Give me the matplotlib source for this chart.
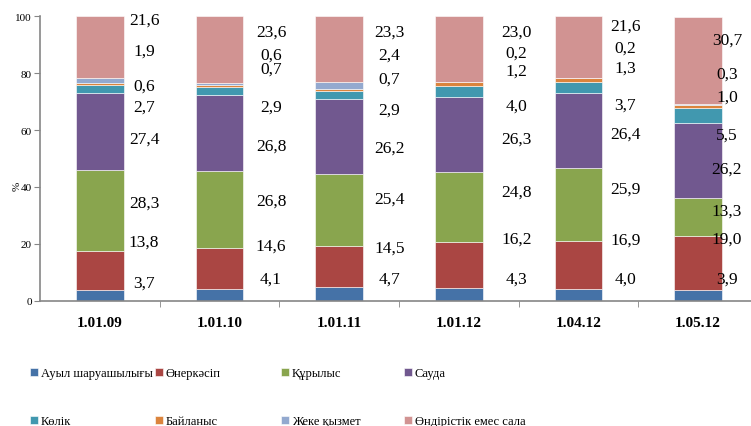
import numpy as np
import matplotlib
matplotlib.use("Agg")
import matplotlib.pyplot as plt

# даты и отрасли
dates = ['1.01.09', '1.01.10', '1.01.11', '1.01.12', '1.04.12', '1.05.12']
sectors = ['Ауыл шаруашылығы', 'Өнеркәсіп', 'Құрылыс', 'Сауда',
           'Көлік', 'Байланыс', 'Жеке қызмет', 'Өндірістік емес сала']

agri = [3.7, 4.1, 4.7, 4.3, 4.0, 3.9]
industry = [13.8, 14.6, 14.5, 16.2, 16.9, 19.0]
construction = [28.3, 26.8, 25.4, 24.8, 25.9, 13.3]
trade = [27.4, 26.8, 26.2, 26.3, 26.4, 26.2]
transport = [2.7, 2.9, 2.9, 4.0, 3.7, 5.5]
communication = [0.6, 0.7, 0.7, 1.2, 1.3, 1.0]
private = [1.9, 0.6, 2.4, 0.2, 0.2, 0.3]
nonprod = [21.6, 23.6, 23.3, 23.0, 21.6, 30.7]

colors = ['#4572A7', '#AA4643', '#89A54E', '#71588F',
          '#4198AF', '#DB843D', '#93A9CF', '#D19392']

# положение подписей (как в исходной диаграмме, подписи раздвинуты вручную)
label_y = [
    [6.5, 20.9, 34.4, 56.9, 68.4, 75.8, 87.9, 98.8],
    [7.6, 19.2, 35.1, 54.4, 68.1, 81.5, 86.7, 94.5],
    [7.6, 18.8, 35.8, 53.9, 67.2, 78.2, 86.7, 94.7],
    [7.6, 21.7, 38.3, 56.9, 68.6, 80.9, 87.3, 94.7],
    [7.6, 21.4, 39.3, 58.6, 68.8, 82.1, 89.1, 96.9],
    [7.6, 21.7, 31.6, 46.3, 58.3, 71.9, 79.7, 91.8],
]
label_dx = [0.37, 0.43, 0.42, 0.48, 0.39, 0.24]

series = [agri, industry, construction, trade, transport, communication, private, nonprod]

plt.rcParams['font.family'] = ['Liberation Serif', 'DejaVu Serif']

fig = plt.figure(figsize=(7.51, 4.27), dpi=100)
ax = fig.add_axes([40 / 751, 0.2934, 718 / 751, 0.666])

x = np.arange(len(dates))
bottom = np.zeros(len(dates))
handles = []
for vals, c, name in zip(series, colors, sectors):
    b = ax.bar(x, vals, width=0.4, bottom=bottom, color=c,
               edgecolor='white', linewidth=0.4, label=name)
    handles.append(b)
    bottom += np.array(vals)

for i in range(len(dates)):
    for j, vals in enumerate(series):
        ax.text(x[i] + label_dx[i], label_y[i][j], f'{vals[i]:.1f}'.replace('.', ','),
                ha='center', va='center', fontsize=12.5)

ax.set_xlim(-0.5, len(dates) - 0.5)
ax.set_ylim(0, 100)
ax.set_yticks(range(0, 101, 20))
ax.set_xticks(x)
ax.set_xticklabels(dates, fontweight='bold', fontsize=11)
ax.set_xticks(np.arange(0.5, len(dates) - 0.5), minor=True)
ax.tick_params(axis='x', which='major', length=0, pad=11)
ax.tick_params(axis='x', which='minor', length=4, color='#868686', direction='out')
ax.tick_params(axis='y', labelsize=8, length=4, color='#868686', pad=2)
for s in ['top', 'right']:
    ax.spines[s].set_visible(False)
for s in ['left', 'bottom']:
    ax.spines[s].set_color('#868686')
    ax.spines[s].set_linewidth(1.2)

fig.text(17 / 751, 1 - 186 / 427, '%', rotation=90, fontsize=8, ha='center', va='center')

# легенда: 4 столбца по 2 строки
col_x = [30, 155, 281, 404]
for k in range(4):
    fig.legend([handles[k], handles[k + 4]], [sectors[k], sectors[k + 4]],
               loc='upper left', bbox_to_anchor=(col_x[k] / 751, 1 - 368 / 427),
               frameon=False, fontsize=9, handlelength=0.6, handleheight=0.6,
               handletextpad=0.25, labelspacing=2.9, borderpad=0, borderaxespad=0)

fig.savefig('out.png', dpi=100)
